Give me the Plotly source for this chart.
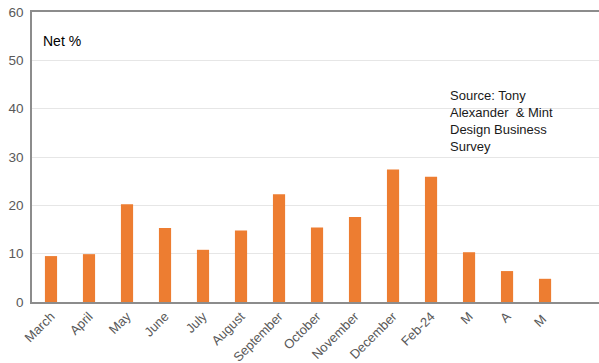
import plotly.graph_objects as go

months = ["March", "April", "May", "June", "July", "August", "September",
          "October", "November", "December", "Feb-24", "M", "A", "M ", ""]
net_pct = [9.5, 9.9, 20.2, 15.3, 10.8, 14.8, 22.3,
           15.4, 17.6, 27.4, 25.9, 10.3, 6.4, 4.8, None]
y_ticks = [0, 10, 20, 30, 40, 50, 60]

fig = go.Figure()
fig.add_trace(go.Bar(
    x=list(range(len(months))),
    y=net_pct,
    marker=dict(color="#ED7D31", line=dict(width=0)),
    width=0.32,
))

fig.update_layout(
    width=599, height=363,
    margin=dict(l=32, r=0, t=12, b=61),
    paper_bgcolor="white", plot_bgcolor="white",
    showlegend=False,
    font=dict(family="Liberation Sans, Arial, sans-serif", color="#595959"),
    xaxis=dict(
        tickmode="array",
        tickvals=list(range(len(months))),
        ticktext=months,
        range=[-0.5, 14.42],
        tickangle=-45,
        tickfont=dict(size=13, color="#595959"),
        showgrid=False,
        showline=True, linecolor="#8c8c8c", linewidth=1.5,
        mirror=True,
        ticks="",
        zeroline=False,
        automargin=False,
    ),
    yaxis=dict(
        range=[0, 60],
        tickvals=y_ticks,
        tickfont=dict(size=13.5, color="#595959"),
        showgrid=True, gridcolor="#e6e6e6", gridwidth=1,
        showline=True, linecolor="#8c8c8c", linewidth=1.5,
        ticks="", ticklabelstandoff=4,
        zeroline=False,
        automargin=False,
    ),
    annotations=[
        dict(text="Net %", xref="paper", yref="paper", x=0.016, y=0.9,
             xanchor="left", yanchor="middle", showarrow=False,
             font=dict(size=14, color="#000000")),
        dict(text="Source: Tony<br>Alexander  & Mint<br>Design Business<br>Survey",
             xref="paper", yref="paper", x=0.733, y=0.745,
             xanchor="left", yanchor="top", align="left", showarrow=False,
             font=dict(size=13, color="#1a1a1a")),
    ],
)

fig.write_html("out.html")
